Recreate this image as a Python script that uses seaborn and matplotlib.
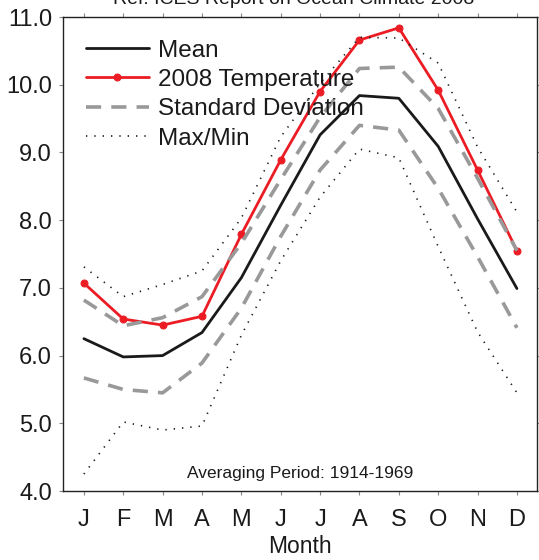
import numpy as np
import pandas as pd
import matplotlib
matplotlib.use('Agg')
import matplotlib.pyplot as plt
import seaborn as sns

# Monthly temperatures
months = ['J', 'F', 'M', 'A', 'M', 'J', 'J', 'A', 'S', 'O', 'N', 'D']
mean_temp = [6.25, 5.98, 6.00, 6.34, 7.15, 8.22, 9.26, 9.84, 9.80, 9.09, 8.02, 6.99]
temp_2008 = [7.07, 6.54, 6.45, 6.58, 7.79, 8.89, 9.90, 10.66, 10.84, 9.92, 8.74, 7.55]
sd_upper = [6.82, 6.44, 6.56, 6.87, 7.66, 8.60, 9.52, 10.24, 10.26, 9.65, 8.62, 7.55]
sd_lower = [5.67, 5.50, 5.45, 5.89, 6.70, 7.76, 8.74, 9.40, 9.33, 8.47, 7.46, 6.41]
temp_max = [7.31, 6.87, 7.05, 7.25, 8.03, 9.23, 10.02, 10.70, 10.69, 10.32, 9.08, 8.12]
temp_min = [4.25, 5.02, 4.90, 4.96, 6.30, 7.40, 8.34, 9.05, 8.92, 7.61, 6.35, 5.45]

x = np.arange(len(months))

sns.set_style('ticks')
plt.rcParams['font.family'] = ['Liberation Sans', 'DejaVu Sans']

fig = plt.figure(figsize=(5.39, 5.60), dpi=100)
ax = fig.add_axes([0.1169, 0.1232, 0.8794, 0.8464])

red = '#ec1c24'
grey = '#999999'

sns.lineplot(x=x, y=mean_temp, ax=ax, color='#1a1a1a', linewidth=2.0, label='Mean')
sns.lineplot(x=x, y=temp_2008, ax=ax, color=red, linewidth=2.0, marker='o',
             markersize=5, markeredgecolor=red, label='2008 Temperature')
sns.lineplot(x=x, y=sd_upper, ax=ax, color=grey, linewidth=2.6,
             linestyle=(0, (4.2, 2.8)), label='Standard Deviation')
sns.lineplot(x=x, y=sd_lower, ax=ax, color=grey, linewidth=2.6,
             linestyle=(0, (4.2, 2.8)))
sns.lineplot(x=x, y=temp_max, ax=ax, color='#1a1a1a', linewidth=1.2,
             linestyle=(0, (0.8, 4.2)), label='Max/Min')
sns.lineplot(x=x, y=temp_min, ax=ax, color='#1a1a1a', linewidth=1.2,
             linestyle=(0, (0.8, 4.2)))

ax.set_xlim(-0.53, 11.51)
ax.set_ylim(4.0, 11.0)
ax.set_xticks(x)
ax.set_xticklabels(months)
ax.set_yticks(np.arange(4, 11.5, 1.0))
ax.set_yticklabels([f'{v:.1f}' for v in np.arange(4, 11.5, 1.0)])

ax.tick_params(axis='both', which='both', direction='out', length=3, width=0.8,
               color='#888888', labelsize=17, labelcolor='#1a1a1a',
               top=True, right=True)
ax.tick_params(axis='x', pad=10)
ax.tick_params(axis='y', pad=5)
for s in ax.spines.values():
    s.set_visible(True)
    s.set_color('#222222')
    s.set_linewidth(1.0)

ax.set_xlabel('Month', fontsize=16.5, labelpad=3, color='#1a1a1a')
ax.set_ylabel('')

ax.text(0.5, 0.022, 'Averaging Period: 1914-1969', transform=ax.transAxes,
        ha='center', va='bottom', fontsize=12.5, color='#1a1a1a')

fig.text(0.545, 1 - 4 / 560, 'Ref: ICES Report on Ocean Climate 2008',
         ha='center', va='baseline', fontsize=14, color='#1a1a1a')

leg = ax.legend(loc='upper left', bbox_to_anchor=(0.017, 0.983), frameon=False,
                fontsize=17.5, handlelength=2.6, handletextpad=0.37,
                labelspacing=0.3, borderaxespad=0.2)
for t in leg.get_texts():
    t.set_color('#1a1a1a')

fig.savefig('out.png', dpi=100)
